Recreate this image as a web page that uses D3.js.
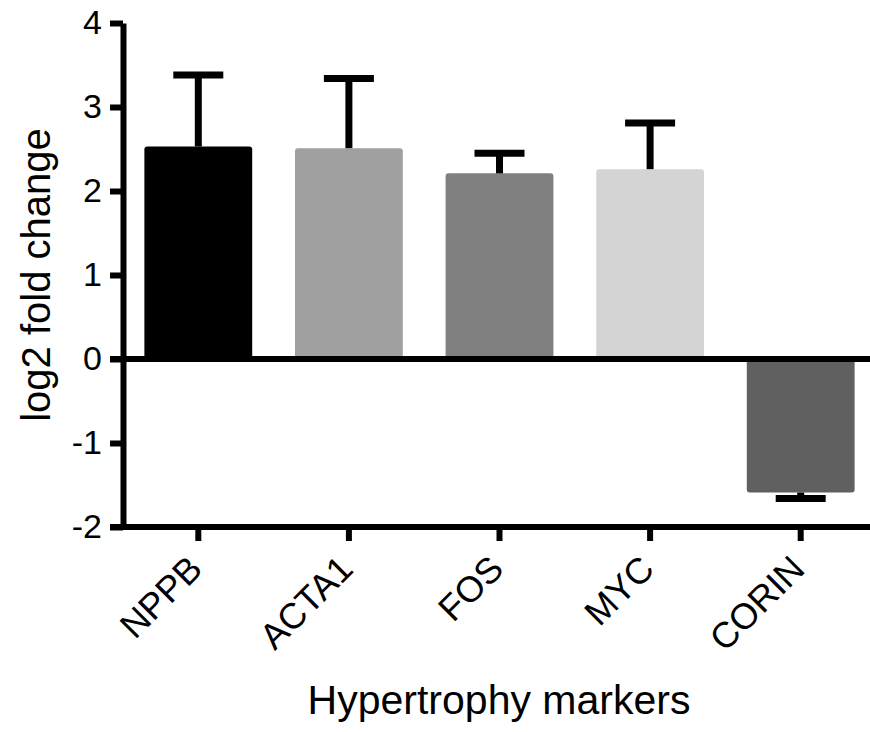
<!DOCTYPE html>
<html>
<head>
<meta charset="utf-8">
<script src="https://cdn.jsdelivr.net/npm/d3@7"></script>
<style>
  html, body { margin: 0; padding: 0; background: #fff; }
  svg { display: block; font-family: "Liberation Sans", Arial, sans-serif; }
</style>
</head>
<body>
<svg id="chart" width="870" height="732"></svg>
<script>
// chart data
const categories = ["NPPB", "ACTA1", "FOS", "MYC", "CORIN"];
const means = [2.53, 2.51, 2.21, 2.26, -1.59];
const errors = [0.85, 0.83, 0.24, 0.55, 0.07];
const barColors = ["#000000", "#a0a0a0", "#808080", "#d4d4d4", "#606060"];
const yTicks = [-2, -1, 0, 1, 2, 3, 4];

const svg = d3.select("#chart");
const axisWidth = 6;

// scales
const x = d3.scaleBand().domain(categories).range([123, 876]).padding(0);
const y = d3.scaleLinear().domain([-2, 4]).range([527, 23]);
const barW = x.bandwidth() * 0.716;
const capW = 50;

const rows = categories.map((c, i) => ({name: c, mean: means[i], err: errors[i], color: barColors[i]}));

// bars
svg.append("g").selectAll("rect")
    .data(rows)
    .enter().append("rect")
    .attr("x", d => x(d.name) + (x.bandwidth() - barW) / 2)
    .attr("y", d => y(Math.max(0, d.mean)))
    .attr("width", barW)
    .attr("height", d => Math.abs(y(d.mean) - y(0)))
    .attr("rx", 3)
    .attr("fill", d => d.color);

// error bars (one-sided, away from zero)
const eb = svg.append("g").attr("stroke", "#000").attr("stroke-width", 7);
rows.forEach(d => {
    const cx = x(d.name) + x.bandwidth() / 2;
    const tip = d.mean >= 0 ? d.mean + d.err : d.mean - d.err;
    eb.append("line").attr("x1", cx).attr("x2", cx).attr("y1", y(d.mean)).attr("y2", y(tip));
    eb.append("line").attr("x1", cx - capW / 2).attr("x2", cx + capW / 2).attr("y1", y(tip)).attr("y2", y(tip));
});

// zero line
svg.append("line")
    .attr("x1", 110).attr("x2", 870)
    .attr("y1", y(0)).attr("y2", y(0))
    .attr("stroke", "#000").attr("stroke-width", axisWidth);

// y axis
const yAxis = svg.append("g")
    .attr("transform", "translate(123,0)")
    .call(d3.axisLeft(y).tickValues(yTicks).tickFormat(d => String(d)).tickSize(13).tickSizeOuter(0).tickPadding(8));
yAxis.select(".domain").attr("stroke-width", axisWidth);
yAxis.selectAll(".tick line").attr("stroke-width", axisWidth);
yAxis.selectAll(".tick text").attr("font-size", 34).attr("fill", "#000").style("font-family", "Liberation Sans, Arial, sans-serif");

// x axis
const xAxis = svg.append("g")
    .attr("transform", `translate(0,${y(-2)})`)
    .call(d3.axisBottom(x).tickSize(14).tickSizeOuter(0));
xAxis.select(".domain").remove();
xAxis.append("line").attr("x1", 110).attr("x2", 870).attr("stroke", "#000").attr("stroke-width", axisWidth);
xAxis.selectAll(".tick line").attr("stroke-width", axisWidth);
xAxis.selectAll(".tick text")
    .attr("font-size", 36)
    .attr("fill", "#000")
    .style("font-family", "Liberation Sans, Arial, sans-serif")
    .attr("text-anchor", "end")
    .attr("dy", null)
    .attr("y", null)
    .attr("transform", "translate(6,44) rotate(-45)");

// axis titles
svg.append("text")
    .attr("transform", "translate(50,275) rotate(-90)")
    .attr("text-anchor", "middle")
    .attr("font-size", 40)
    .text("log2 fold change");

svg.append("text")
    .attr("x", 499)
    .attr("y", 714)
    .attr("text-anchor", "middle")
    .attr("font-size", 41)
    .text("Hypertrophy markers");
</script>
</body>
</html>
